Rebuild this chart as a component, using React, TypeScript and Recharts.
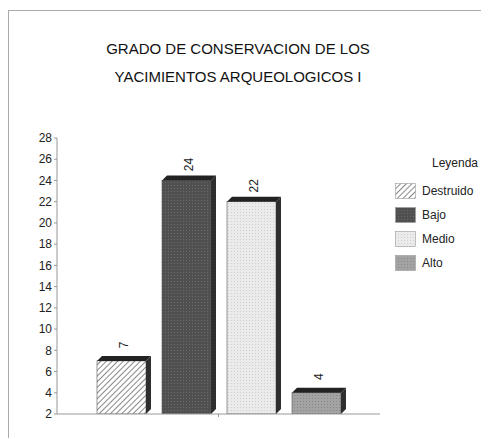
import { Bar, BarChart, XAxis, YAxis } from "recharts";

const categories = ["Yacimientos"];
const seriesNames = ["Destruido", "Bajo", "Medio", "Alto"];
const seriesValues = [7, 24, 22, 4];
const yTicks = [2, 4, 6, 8, 10, 12, 14, 16, 18, 20, 22, 24, 26, 28];

const fills = ["url(#hatch)", "url(#dotsDark)", "url(#dotsLight)", "url(#dotsMid)"];

const data = categories.map((name) => {
  const row: Record<string, string | number> = { name };
  seriesNames.forEach((s, i) => {
    row[s] = seriesValues[i];
  });
  return row;
});

const DEPTH = 5;

function Box3D(props: any) {
  const { x, y, width, height, fill } = props;
  if (width == null || height == null) return null;
  return (
    <g>
      <rect x={x} y={y} width={width} height={height} fill={fill} stroke="#555" strokeWidth={0.6} />
      <polygon
        points={`${x},${y} ${x + DEPTH},${y - DEPTH} ${x + width + DEPTH},${y - DEPTH} ${x + width},${y}`}
        fill="#222"
      />
      <polygon
        points={`${x + width},${y} ${x + width + DEPTH},${y - DEPTH} ${x + width + DEPTH},${y + height - DEPTH} ${x + width},${y + height}`}
        fill="#2e2e2e"
      />
    </g>
  );
}

function RotatedLabel(props: any) {
  const { x, y, width, value } = props;
  const cx = x + width / 2 + DEPTH / 2;
  const cy = y - 16;
  return (
    <text
      x={cx}
      y={cy}
      transform={`rotate(-90 ${cx} ${cy})`}
      textAnchor="middle"
      dominantBaseline="central"
      fontSize={12}
      fill="#222"
    >
      {value}
    </text>
  );
}

const swatches = ["url(#hatchL)", "url(#dotsDarkL)", "url(#dotsLightL)", "url(#dotsMidL)"];

function LegendBox() {
  return (
    <div style={{ fontSize: 12, color: "#222" }}>
      <div style={{ marginLeft: 37, height: 24, lineHeight: "16px" }}>Leyenda</div>
      {seriesNames.map((n, i) => (
        <div key={n} style={{ display: "flex", alignItems: "center", height: 24 }}>
          <svg width={21} height={16} style={{ marginRight: 6 }}>
            <rect x={0.5} y={0.5} width={20} height={15} fill={swatches[i]} stroke="#999" strokeWidth={0.6} />
          </svg>
          <span>{n}</span>
        </div>
      ))}
    </div>
  );
}

function PatternDefs({ suffix }: { suffix: string }) {
  return (
    <defs>
      <pattern id={`hatch${suffix}`} width={4} height={4} patternUnits="userSpaceOnUse" patternTransform="rotate(45)">
        <rect width={4} height={4} fill="#fff" />
        <line x1={0} y1={0} x2={0} y2={4} stroke="#555" strokeWidth={1.4} />
      </pattern>
      <pattern id={`dotsDark${suffix}`} width={3} height={3} patternUnits="userSpaceOnUse">
        <rect width={3} height={3} fill="#505050" />
        <rect width={1} height={1} fill="#6a6a6a" />
      </pattern>
      <pattern id={`dotsLight${suffix}`} width={3} height={3} patternUnits="userSpaceOnUse">
        <rect width={3} height={3} fill="#ebebeb" />
        <rect width={1} height={1} fill="#cfcfcf" />
      </pattern>
      <pattern id={`dotsMid${suffix}`} width={3} height={3} patternUnits="userSpaceOnUse">
        <rect width={3} height={3} fill="#a3a3a3" />
        <rect width={1} height={1} fill="#888" />
      </pattern>
    </defs>
  );
}

export default function App() {
  return (
    <div
      style={{
        position: "relative",
        width: 481,
        height: 427,
        marginTop: 2,
        borderTop: "1px solid #aaa",
        borderLeft: "1px solid #aaa",
        fontFamily: "Arial, 'Liberation Sans', sans-serif",
      }}
    >
      <svg width={0} height={0} style={{ position: "absolute" }}>
        <PatternDefs suffix="L" />
      </svg>
      <div
        style={{
          position: "absolute",
          left: 0,
          width: 458,
          top: 24,
          textAlign: "center",
          fontSize: 15,
          color: "#111",
          lineHeight: "28px",
        }}
      >
        <div>GRADO DE CONSERVACION DE LOS</div>
        <div>YACIMIENTOS ARQUEOLOGICOS I</div>
      </div>
      <div style={{ position: "absolute", left: 386, top: 144, width: 92 }}>
        <LegendBox />
      </div>
      <BarChart
        width={480}
        height={427}
        data={data}
        margin={{ top: 127, right: 109, bottom: 14, left: 8 }}
        barSize={49}
        barGap={16}
      >
        <PatternDefs suffix="" />
        <XAxis
          dataKey="name"
          height={10}
          tickFormatter={() => ""}
          tickLine={{ stroke: "#999" }}
          tickSize={3}
          axisLine={{ stroke: "#999" }}
        />
        <YAxis
          domain={[2, 28]}
          ticks={yTicks}
          interval={0}
          width={40}
          tickSize={3}
          tickLine={{ stroke: "#999" }}
          axisLine={{ stroke: "#999" }}
          tick={{ fontSize: 12, fill: "#222" }}
          allowDataOverflow
        />
        {seriesNames.map((s, i) => (
          <Bar
            key={s}
            dataKey={s}
            fill={fills[i]}
            shape={<Box3D />}
            label={<RotatedLabel />}
            isAnimationActive={false}
          />
        ))}
      </BarChart>
    </div>
  );
}
